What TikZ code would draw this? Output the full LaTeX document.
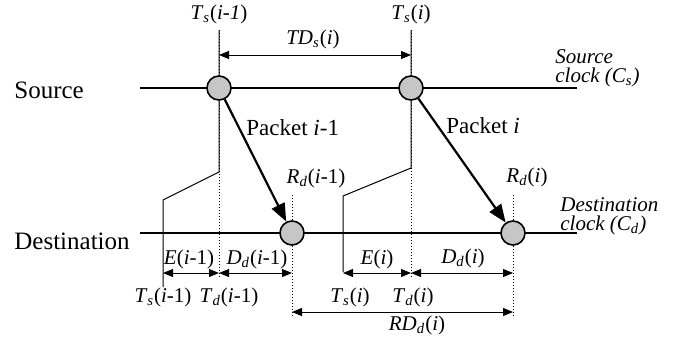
\documentclass[tikz,border=0pt]{standalone}
\usepackage{fontspec}
\setmainfont{Liberation Serif}
\usetikzlibrary{arrows.meta,positioning}

\newcommand{\tsym}[2]{\textit{#1}\textsubscript{\textit{#2}}}

\begin{document}
\begin{tikzpicture}[
        x=0.5pt, y=-0.5pt,
        clk/.style={line width=1pt},
        evt/.style={circle, draw, line width=0.8pt, fill=gray!45, minimum size=12pt, inner sep=0pt},
        pktarr/.style={-{Triangle[length=9pt,width=7pt]}, line width=1.1pt},
        dim/.style={{Triangle[length=5pt,width=4pt]}-{Triangle[length=5pt,width=4pt]}, line width=0.5pt},
        proj/.style={line width=0.5pt},
        guide/.style={densely dotted, line width=0.5pt},
        lbl/.style={font=\fontsize{10.5}{12}\selectfont, inner sep=1pt},
        pktlbl/.style={font=\fontsize{11.5}{13}\selectfont, inner sep=0pt, anchor=west},
        side/.style={font=\fontsize{12.5}{14}\selectfont, inner sep=0pt, anchor=west},
        clklbl/.style={font=\fontsize{10.5}{9.5}\selectfont\itshape, align=left, inner sep=0pt, anchor=west},
    ]
    \useasboundingbox (0,0) rectangle (685,337);

    % Clocks
    \node[side] (src) at (14,90) {Source};
    \node[side] (dst) at (14,241) {Destination};
    \coordinate (srcA) at (140,88);
    \coordinate (srcB) at (577,88);
    \coordinate (dstA) at (140,233);
    \coordinate (dstB) at (577,233);
    \draw[clk] (srcA) -- (srcB);
    \draw[clk] (dstA) -- (dstB);
    \node[clklbl] (srcclk) at (555,68) {Source\\clock (\textit{C}\textsubscript{\textit{s}})};
    \node[clklbl] (dstclk) at (560,216) {Destination\\clock (\textit{C}\textsubscript{\textit{d}})};

    % Timestamp projections
    \coordinate (p1top) at (219,30);
    \coordinate (p1bend) at (219,172);
    \coordinate (p1foot) at (163,200);
    \coordinate (p1end) at (163,287);
    \coordinate (g1end) at (219,278);
    \draw[proj] (p1top) -- (p1bend) -- (p1foot) -- (p1end);
    \draw[guide] (p1top) -- (g1end);
    \coordinate (p2top) at (411,30);
    \coordinate (p2bend) at (411,168);
    \coordinate (p2foot) at (343,196);
    \coordinate (p2end) at (343,272);
    \coordinate (g2end) at (411,278);
    \draw[proj] (p2top) -- (p2bend) -- (p2foot) -- (p2end);
    \draw[guide] (p2top) -- (g2end);
    \coordinate (r1top) at (292,195);
    \coordinate (r1bot) at (292,318);
    \coordinate (r2top) at (513,195);
    \coordinate (r2bot) at (513,318);
    \draw[guide] (r1top) -- (r1bot);
    \draw[guide] (r2top) -- (r2bot);

    % Events
    \node[evt] (s1) at (219,88) {};
    \node[evt] (s2) at (411,88) {};
    \node[evt] (d1) at (292,233) {};
    \node[evt] (d2) at (513,233) {};
    \draw[pktarr] (s1) -- (d1);
    \draw[pktarr] (s2) -- (d2);
    \node[pktlbl] (pk1) at (246,128) {Packet \textit{i}-1};
    \node[pktlbl] (pk2) at (446,126) {Packet \textit{i}};

    % Top labels
    \node[lbl] (ts1) at (219,14) {\tsym{T}{s}(\textit{i-1})};
    \node[lbl] (ts2) at (411,14) {\tsym{T}{s}(\textit{i})};
    \coordinate (tdA) at (219,55);
    \coordinate (tdB) at (411,55);
    \draw[dim] (tdA) -- (tdB);
    \node[lbl] (tds) at (313,39) {\textit{TD}\textsubscript{\textit{s}}(\textit{i})};
    \node[lbl] (rd1) at (316,178) {\tsym{R}{d}(\textit{i}-1)};
    \node[lbl] (rd2) at (527,177) {\tsym{R}{d}(\textit{i})};

    % Delays
    \coordinate (e1A) at (163,273);
    \coordinate (e1B) at (219,273);
    \coordinate (e1C) at (292,273);
    \coordinate (e2A) at (343,273);
    \coordinate (e2B) at (411,273);
    \coordinate (e2C) at (513,273);
    \coordinate (rdA) at (292,312);
    \coordinate (rdB) at (513,312);
    \draw[dim] (e1A) -- (e1B);
    \draw[dim] (e1B) -- (e1C);
    \draw[dim] (e2A) -- (e2B);
    \draw[dim] (e2B) -- (e2C);
    \draw[dim] (rdA) -- (rdB);
    \node[lbl] (e1) at (189,259) {\textit{E}(\textit{i}-1)};
    \node[lbl] (dd1) at (257,259) {\tsym{D}{d}(\textit{i}-1)};
    \node[lbl] (e2) at (377,259) {\textit{E}(\textit{i})};
    \node[lbl] (dd2) at (463,258) {\tsym{D}{d}(\textit{i})};
    \node[lbl] (bts1) at (163,297) {\tsym{T}{s}(\textit{i}-1)};
    \node[lbl] (btd1) at (229,297) {\tsym{T}{d}(\textit{i}-1)};
    \node[lbl] (bts2) at (350,297) {\tsym{T}{s}(\textit{i})};
    \node[lbl] (btd2) at (413,297) {\tsym{T}{d}(\textit{i})};
    \node[lbl] (rdd) at (417,325) {\textit{RD}\textsubscript{\textit{d}}(\textit{i})};

\end{tikzpicture}
\end{document}
